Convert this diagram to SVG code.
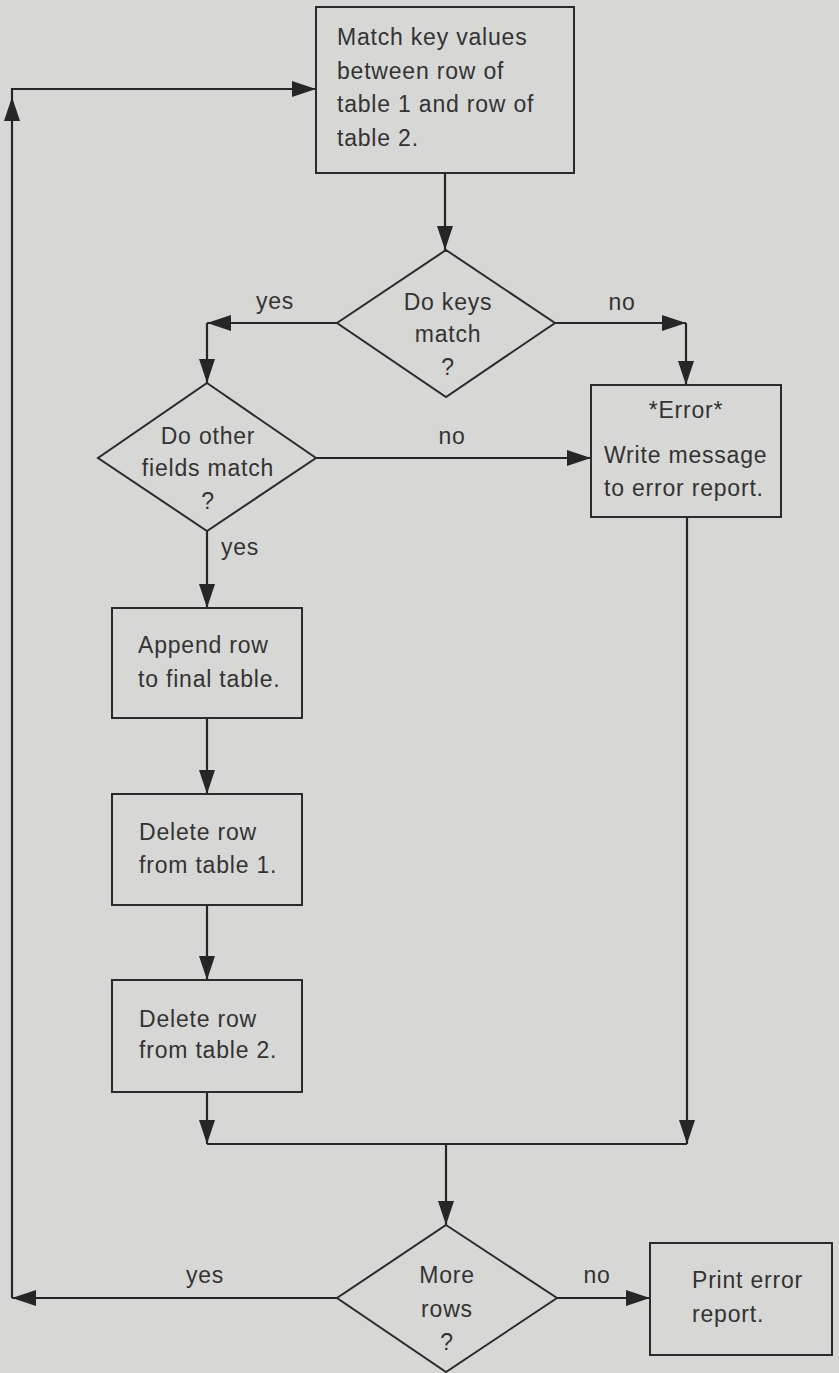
<svg xmlns="http://www.w3.org/2000/svg" width="839" height="1373" viewBox="0 0 839 1373">
<defs>
<marker id="ah" markerUnits="userSpaceOnUse" markerWidth="24" markerHeight="16" refX="24" refY="8" orient="auto">
<path d="M0,0 L24,8 L0,16 z" fill="#262626"/>
</marker>
<style>
.shape{fill:none;stroke:#2b2b2b;stroke-width:2}
.conn{fill:none;stroke:#262626;stroke-width:2.2;marker-end:url(#ah)}
.line{fill:none;stroke:#262626;stroke-width:2.2}
text{font-family:"Liberation Sans",Arial,sans-serif;font-size:23px;fill:#333;letter-spacing:0.8px}
.c{text-anchor:middle}
</style>
</defs>
<rect width="839" height="1373" fill="#d7d8d6"/>

<g id="connectors">
<path class="conn" d="M445,173 L445,250"/>
<path class="conn" d="M337,323 L207,323"/>
<path class="conn" d="M207,323 L207,383"/>
<path class="conn" d="M555,323 L686,323"/>
<path class="conn" d="M686,323 L686,385"/>
<path class="conn" d="M316,458 L591,458"/>
<path class="conn" d="M207,531 L207,608"/>
<path class="conn" d="M207,718 L207,794"/>
<path class="conn" d="M207,905 L207,980"/>
<path class="conn" d="M207,1092 L207,1144"/>
<path class="conn" d="M687,517 L687,1144"/>
<path class="line" d="M207,1144 L687,1144"/>
<path class="conn" d="M446,1144 L446,1225"/>
<path class="conn" d="M557,1298 L650,1298"/>
<path class="conn" d="M337,1298 L12,1298"/>
<path class="conn" d="M12,1298 L12,97"/>
<path class="conn" d="M12,97 L12,89 L316,89"/>
<text x="275" y="309" class="c">yes</text>
<text x="622" y="310" class="c">no</text>
<text x="452" y="444" class="c">no</text>
<text x="240" y="555" class="c">yes</text>
<text x="205" y="1283" class="c">yes</text>
<text x="597" y="1283" class="c">no</text>
</g>

<g id="n-match">
<rect class="shape" x="316" y="7" width="258" height="166"/>
<text x="337" y="45">Match key values</text>
<text x="337" y="79">between row of</text>
<text x="337" y="112">table 1 and row of</text>
<text x="337" y="146">table 2.</text>
</g>

<g id="n-keys">
<polygon class="shape" points="446,250 555,323 446,397 337,323"/>
<text x="448" y="310" class="c">Do keys</text>
<text x="448" y="342" class="c">match</text>
<text x="448" y="375" class="c">?</text>
</g>

<g id="n-fields">
<polygon class="shape" points="207,383 316,458 207,531 98,458"/>
<text x="208" y="444" class="c">Do other</text>
<text x="208" y="476" class="c">fields match</text>
<text x="208" y="509" class="c">?</text>
</g>

<g id="n-error">
<rect class="shape" x="591" y="385" width="190" height="132"/>
<text x="686" y="418" class="c">*Error*</text>
<text x="604" y="463">Write message</text>
<text x="604" y="496">to error report.</text>
</g>

<g id="n-append">
<rect class="shape" x="112" y="608" width="190" height="110"/>
<text x="138" y="653">Append row</text>
<text x="138" y="687">to final table.</text>
</g>

<g id="n-del1">
<rect class="shape" x="112" y="794" width="190" height="111"/>
<text x="139" y="840">Delete row</text>
<text x="139" y="873">from table 1.</text>
</g>

<g id="n-del2">
<rect class="shape" x="112" y="980" width="190" height="112"/>
<text x="139" y="1027">Delete row</text>
<text x="139" y="1058">from table 2.</text>
</g>

<g id="n-more">
<polygon class="shape" points="446,1225 557,1298 446,1372 337,1298"/>
<text x="447" y="1283" class="c">More</text>
<text x="447" y="1317" class="c">rows</text>
<text x="447" y="1350" class="c">?</text>
</g>

<g id="n-print">
<rect class="shape" x="650" y="1243" width="182" height="112"/>
<text x="692" y="1288">Print error</text>
<text x="692" y="1322">report.</text>
</g>
</svg>
